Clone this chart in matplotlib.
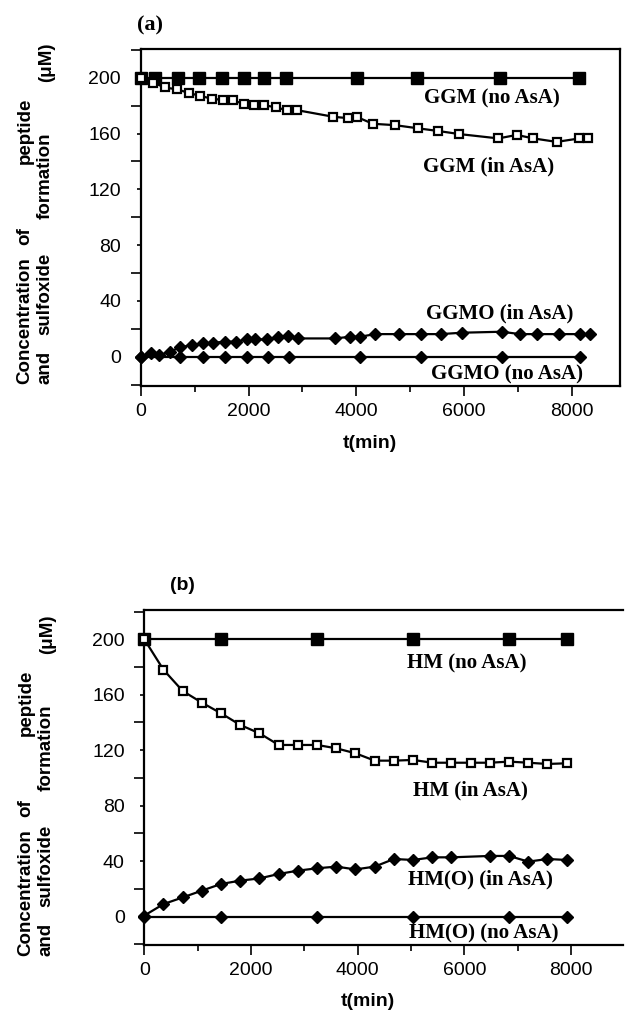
import matplotlib
matplotlib.use("Agg")
import matplotlib.pyplot as plt
from matplotlib.ticker import FixedLocator

# ---- datos panel (a): GGM ----
t_ggm_no = [0, 265, 690, 1090, 1500, 1910, 2290, 2690, 4020, 5130, 6660, 8140]
ggm_no = [200, 200, 200, 200, 200, 200, 200, 200, 200, 200, 200, 200]

t_ggm_in = [0, 234, 451, 680, 902, 1100, 1317, 1533, 1707, 1917, 2103, 2288, 2511,
            2709, 2894, 3575, 3853, 4020, 4305, 4719, 5152, 5523, 5913, 6636, 6976,
            7285, 7718, 8139, 8306]
ggm_in = [200, 196.4, 193, 191.6, 189, 187, 185, 184, 184, 181, 180.4, 180.4, 178.7,
          176.8, 176.8, 172, 171, 171.7, 167, 166, 163.7, 161.8, 159.6, 156.5, 159,
          156.5, 154, 156.5, 156.5]

t_ggmo_in = [0, 185, 346, 544, 729, 945, 1162, 1347, 1564, 1768, 1966, 2121, 2337,
             2554, 2739, 2925, 3605, 3883, 4069, 4347, 4792, 5194, 5565, 5955, 6697,
             7037, 7346, 7767, 8151, 8337]
ggmo_in = [0, 2.4, 1.2, 3.6, 6.7, 8.4, 9.6, 10, 10.8, 10.8, 12.4, 12.4, 12.4,
           14.3, 14.8, 13.1, 13.1, 14.3, 14.3, 16.2, 16.2, 16.2, 16.2, 17.2, 17.9,
           16.2, 16.2, 16.2, 16.2, 16.2]

t_ggmo_no = [0, 729, 1162, 1564, 1966, 2368, 2758, 4069, 5194, 6697, 8151]
ggmo_no = [0, 0, 0, 0, 0, 0, 0, 0, 0, 0, 0]

# ---- datos panel (b): HM ----
t_hm_no = [0, 1440, 3240, 5040, 6840, 7920]
hm_no = [200, 200, 200, 200, 200, 200]

t_hm_in = [0, 360, 720, 1080, 1440, 1800, 2160, 2520, 2880, 3240, 3600, 3960,
           4320, 4680, 5040, 5400, 5760, 6120, 6480, 6840, 7200, 7560, 7920]
hm_in = [200, 178, 162.7, 154.3, 146.6, 138.2, 132.2, 123.8, 123.8, 123.8, 121.4, 117.8,
         112.5, 112.5, 113, 111, 111, 111, 111, 111.8, 111, 110.1, 110.6]

t_hmo_in = [0, 360, 720, 1080, 1440, 1800, 2160, 2520, 2880, 3240, 3600, 3960,
            4320, 4680, 5040, 5400, 5760, 6480, 6840, 7200, 7560, 7920]
hmo_in = [0.8, 9.1, 13.9, 18.8, 23.6, 26, 27.6, 30.8, 33.2, 34.9, 36.1, 34.1,
          36.1, 41.6, 40.9, 42.8, 42.8, 43.8, 43.8, 39.7, 41.6, 40.9]

t_hmo_no = [0, 1440, 3240, 5040, 6840, 7920]
hmo_no = [0, 0, 0, 0, 0, 0]

y_ticks = [0, 40, 80, 120, 160, 200]
y_minor = [-20, 20, 60, 100, 140, 180, 220]
x_ticks = [0, 2000, 4000, 6000, 8000]
x_minor = [1000, 3000, 5000, 7000]

W, H = 636, 1011
SANS = "Liberation Sans"
SERIF = "Liberation Serif"

fig = plt.figure(figsize=(W / 100, H / 100), dpi=100)


def px(x, y):
    # pixel (arriba-izquierda) -> fraccion de figura
    return x / W, 1 - y / H


def ejes(left, top, right, bottom):
    return fig.add_axes([left / W, 1 - bottom / H, (right - left) / W, (bottom - top) / H])


def estilo(ax):
    for s in ax.spines.values():
        s.set_linewidth(1.6)
    ax.yaxis.set_major_locator(FixedLocator(y_ticks))
    ax.yaxis.set_minor_locator(FixedLocator(y_minor))
    ax.xaxis.set_major_locator(FixedLocator(x_ticks))
    ax.xaxis.set_minor_locator(FixedLocator(x_minor))
    ax.tick_params(axis="y", which="major", direction="out", length=3, width=1.2,
                   pad=11, labelsize=14)
    ax.tick_params(axis="y", which="minor", direction="out", length=7, width=1.2)
    ax.tick_params(axis="x", which="major", direction="out", length=7, width=1.2,
                   pad=5, labelsize=14)
    ax.tick_params(axis="x", which="minor", direction="out", length=4.5, width=1.2)
    for lab in ax.get_xticklabels() + ax.get_yticklabels():
        lab.set_family(SANS)


def serie(ax, t, v, tipo):
    kw = dict(color="black", lw=1.6, clip_on=False, zorder=3)
    if tipo == "lleno":
        ax.plot(t, v, marker="s", ms=8.5, mfc="black", mec="black", **kw)
    elif tipo == "hueco":
        ax.plot(t, v, marker="s", ms=6, mfc="white", mec="black", mew=1.6, **kw)
    else:
        ax.plot(t, v, marker="D", ms=6.5, mfc="black", mec="black", **kw)


def etiqueta(ax, x, y, texto):
    ax.text(x, y, texto, ha="center", va="center", fontsize=15,
            family=SERIF, fontweight="bold")


def ylabel_justificado(dy, dx=0):
    kw = dict(rotation=90, fontsize=13.5, family=SANS, fontweight="bold", ha="center")
    fig.text(*px(25 + dx, 384 + dy), "Concentration", va="bottom", **kw)
    fig.text(*px(25 + dx, 236 + dy), "of", va="center", **kw)
    fig.text(*px(25 + dx, 98 + dy), "peptide", va="top", **kw)
    fig.text(*px(45 + dx, 384 + dy), "and", va="bottom", **kw)
    fig.text(*px(45 + dx, 294 + dy), "sulfoxide", va="center", **kw)
    fig.text(*px(45 + dx, 176 + dy), "formation", va="center", **kw)
    fig.text(*px(47 + dx, 43 + dy), "(μM)", va="top", **kw)


# ---- panel (a) ----
ax1 = ejes(140.5, 49, 620, 386)
serie(ax1, t_ggm_no, ggm_no, "lleno")
serie(ax1, t_ggm_in, ggm_in, "hueco")
serie(ax1, t_ggmo_in, ggmo_in, "diamante")
serie(ax1, t_ggmo_no, ggmo_no, "diamante")
ax1.set_xlim(-4, 8892)
ax1.set_ylim(-21, 220.6)
estilo(ax1)
etiqueta(ax1, 6512, 185.4, "GGM (no AsA)")
etiqueta(ax1, 6449, 136.4, "GGM (in AsA)")
etiqueta(ax1, 6666, 31.1, "GGMO (in AsA)")
etiqueta(ax1, 6790, -13.1, "GGMO (no AsA)")
fig.text(*px(150, 25), "(a)", ha="center", va="center", fontsize=16,
         family=SERIF, fontweight="bold")
fig.text(*px(370, 443), "t(min)", ha="center", va="center", fontsize=14,
         family=SANS, fontweight="bold")
ylabel_justificado(0)

# ---- panel (b) ----
ax2 = ejes(144.3, 610, 623, 945)
serie(ax2, t_hm_no, hm_no, "lleno")
serie(ax2, t_hm_in, hm_in, "hueco")
serie(ax2, t_hmo_in, hmo_in, "diamante")
serie(ax2, t_hmo_no, hmo_no, "diamante")
ax2.set_xlim(0, 8976)
ax2.set_ylim(-20.4, 221.1)
estilo(ax2)
ax2.spines["right"].set_visible(False)
etiqueta(ax2, 6045, 182.7, "HM (no AsA)")
etiqueta(ax2, 6107, 91.3, "HM (in AsA)")
etiqueta(ax2, 6295, 26.5, "HM(O) (in AsA)")
etiqueta(ax2, 6357, -12, "HM(O) (no AsA)")
fig.text(*px(182, 586), "(b)", ha="center", va="center", fontsize=14,
         family=SANS, fontweight="bold")
fig.text(*px(368, 1001), "t(min)", ha="center", va="center", fontsize=14,
         family=SANS, fontweight="bold")
ylabel_justificado(572, dx=1)

fig.savefig("out.png", dpi=100)
